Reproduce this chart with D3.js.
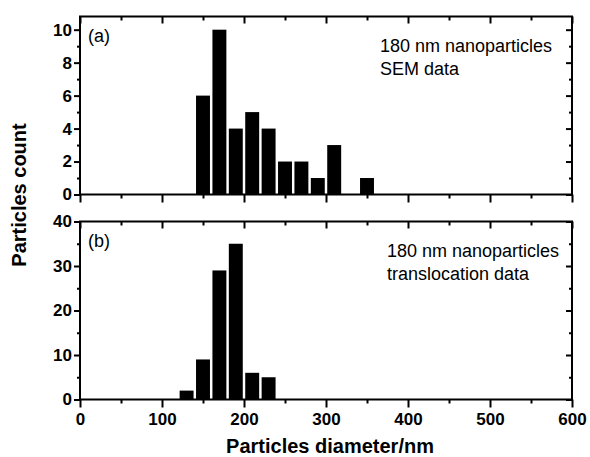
<!DOCTYPE html>
<html>
<head>
<meta charset="utf-8">
<script src="https://cdn.jsdelivr.net/npm/d3@7"></script>
<style>
  body { margin: 0; background: #fff; }
  svg { display: block; font-family: "Liberation Sans", Arial, sans-serif; }
</style>
</head>
<body>
<svg id="chart" width="590" height="457"></svg>
<script>
// histogram data, bin width 20 nm (bin centres)
const semDiameters = [150, 170, 190, 210, 230, 250, 270, 290, 310, 330, 350];
const semCounts = [6, 10, 4, 5, 4, 2, 2, 1, 3, 0, 1];
const trDiameters = [130, 150, 170, 190, 210, 230];
const trCounts = [2, 9, 29, 35, 6, 5];

const xTicks = [0, 100, 200, 300, 400, 500, 600];
const xMinor = [50, 150, 250, 350, 450, 550];
const semTicks = [0, 2, 4, 6, 8, 10];
const semMinor = [1, 3, 5, 7, 9];
const trTicks = [0, 10, 20, 30, 40];
const trMinor = [5, 15, 25, 35];

const binWidth = 20;

const svg = d3.select("#chart");
const left = 80, right = 572;

const x = d3.scaleLinear().domain([0, 600]).range([left, right]);

const panels = [
  {
    xs: semDiameters, ys: semCounts, top: 16.5, bottom: 194.5, max: 10.8,
    ticks: semTicks, minor: semMinor, tag: "(a)",
    note: ["180 nm nanoparticles", "SEM data"], noteX: 380, showLabels: false
  },
  {
    xs: trDiameters, ys: trCounts, top: 221.5, bottom: 399.5, max: 40,
    ticks: trTicks, minor: trMinor, tag: "(b)",
    note: ["180 nm nanoparticles", "translocation data"], noteX: 387, showLabels: true
  }
];

panels.forEach((p) => {
  const y = d3.scaleLinear().domain([0, p.max]).range([p.bottom, p.top]);
  const g = svg.append("g");

  const bins = p.xs.map((d, i) => ({ x: d, count: p.ys[i] })).filter((d) => d.count > 0);
  const bw = x(binWidth * 0.85) - x(0);

  g.append("g")
    .selectAll("rect")
    .data(bins)
    .enter()
    .append("rect")
    .attr("x", (d) => x(d.x) - bw / 2)
    .attr("y", (d) => y(d.count))
    .attr("width", bw)
    .attr("height", (d) => y(0) - y(d.count))
    .attr("fill", "#000");

  // bottom: ticks outward
  const bx = g.append("g").attr("transform", `translate(0,${p.bottom})`);
  bx.call(d3.axisBottom(x).tickValues(xTicks).tickSize(8).tickPadding(5)
    .tickFormat(p.showLabels ? d3.format("d") : () => ""));
  bx.append("g").call(d3.axisBottom(x).tickValues(xMinor).tickSize(4).tickFormat(() => ""));

  // top: ticks inward
  const tx = g.append("g").attr("transform", `translate(0,${p.top})`);
  tx.call(d3.axisBottom(x).tickValues(xTicks).tickSize(7).tickFormat(() => ""));
  tx.append("g").call(d3.axisBottom(x).tickValues(xMinor).tickSize(4).tickFormat(() => ""));

  // left: ticks outward
  const ly = g.append("g").attr("transform", `translate(${left},0)`);
  ly.call(d3.axisLeft(y).tickValues(p.ticks).tickSize(6).tickPadding(2));
  ly.append("g").call(d3.axisLeft(y).tickValues(p.minor).tickSize(3).tickFormat(() => ""));

  // right: ticks inward
  const ry = g.append("g").attr("transform", `translate(${right},0)`);
  ry.call(d3.axisLeft(y).tickValues(p.ticks).tickSize(6).tickFormat(() => ""));
  ry.append("g").call(d3.axisLeft(y).tickValues(p.minor).tickSize(3).tickFormat(() => ""));

  g.selectAll(".domain").remove();
  g.selectAll(".tick line").attr("stroke", "#000").attr("stroke-width", 2);
  g.selectAll(".tick text")
    .attr("fill", "#000")
    .style("font-size", "17px")
    .style("font-weight", "bold")
    .style("font-family", "'Liberation Sans', Arial, sans-serif");

  g.append("rect")
    .attr("x", left).attr("y", p.top)
    .attr("width", right - left).attr("height", p.bottom - p.top)
    .attr("fill", "none").attr("stroke", "#000").attr("stroke-width", 2);

  g.append("text")
    .attr("x", left + 8).attr("y", p.top + 25)
    .style("font-size", "18px")
    .text(p.tag);

  g.append("text")
    .attr("x", p.noteX).attr("y", p.top + 35)
    .style("font-size", "18px")
    .selectAll("tspan")
    .data(p.note)
    .enter()
    .append("tspan")
    .attr("x", p.noteX)
    .attr("dy", (d, i) => (i === 0 ? 0 : 23))
    .text((d) => d);
});

svg.append("text")
  .attr("x", 330).attr("y", 453)
  .attr("text-anchor", "middle")
  .style("font-size", "20px").style("font-weight", "bold")
  .text("Particles diameter/nm");

svg.append("text")
  .attr("transform", "translate(26,195) rotate(-90)")
  .attr("text-anchor", "middle")
  .style("font-size", "20px").style("font-weight", "bold")
  .text("Particles count");
</script>
</body>
</html>
